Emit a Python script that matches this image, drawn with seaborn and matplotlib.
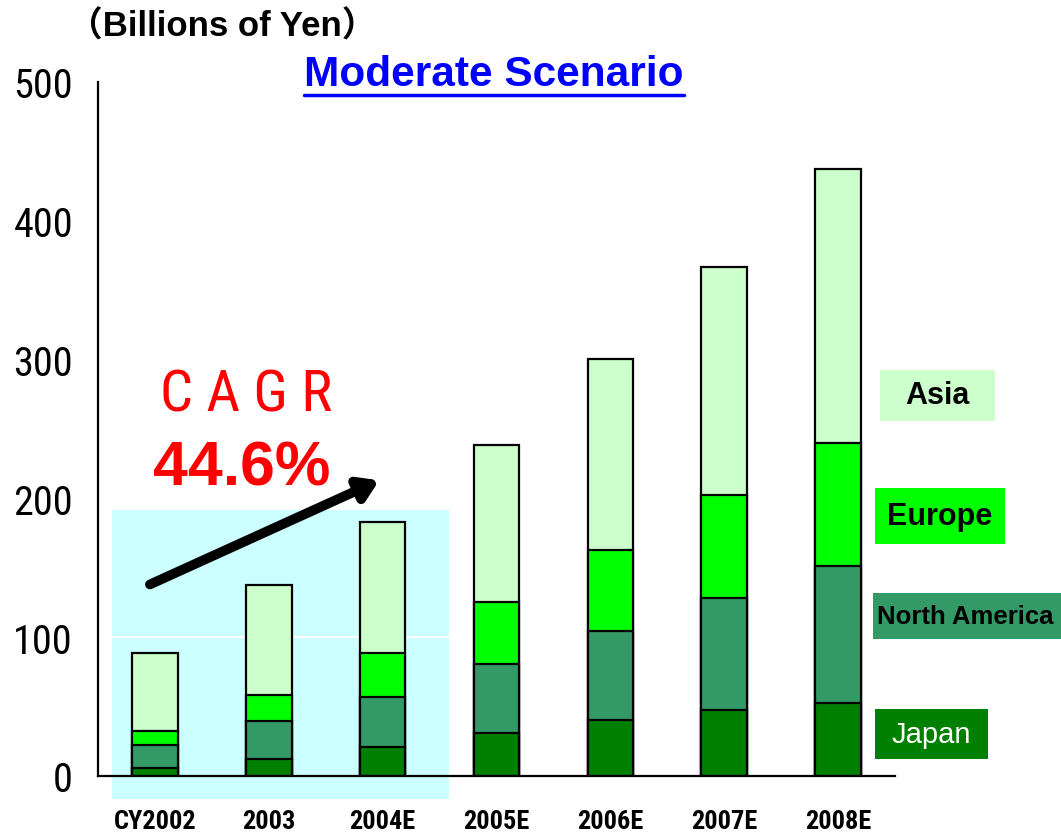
import matplotlib
matplotlib.use("Agg")
import matplotlib.pyplot as plt
from matplotlib import font_manager
from matplotlib.patches import Rectangle
from matplotlib.lines import Line2D
import seaborn as sns
import pandas as pd

# values (billions of yen)
years = ["CY2002", "2003", "2004E", "2005E", "2006E", "2007E", "2008E"]
regions = ["Japan", "North America", "Europe", "Asia"]
japan = [5.5, 12.6, 21.2, 31.2, 40.0, 47.3, 52.7]
north_america = [16.9, 27.2, 35.6, 49.2, 64.7, 80.7, 98.4]
europe = [10.3, 18.7, 31.5, 44.8, 58.0, 74.8, 89.0]
asia = [55.6, 78.8, 94.6, 113.6, 137.9, 164.1, 197.4]
y_ticks = [0, 100, 200, 300, 400, 500]

colors = {"Japan": "#008000", "North America": "#339966",
          "Europe": "#00FF00", "Asia": "#CCFFCC"}
label_colors = {"Japan": "white", "North America": "black",
                "Europe": "black", "Asia": "black"}

sns.set_style("white")
SANS = ["Liberation Sans", "DejaVu Sans"]
plt.rcParams["font.family"] = SANS
plt.rcParams["text.color"] = "black"
plt.rcParams["xtick.color"] = "black"
plt.rcParams["ytick.color"] = "black"

# pick a narrow face if one is installed
names = {(f.name, str(f.stretch)) for f in font_manager.fontManager.ttflist}
fam_names = {n for n, _ in names}
if "Liberation Sans Narrow" in fam_names:
    NARROW = dict(family=["Liberation Sans Narrow", "DejaVu Sans"])
elif "Roboto Condensed" in fam_names:
    NARROW = dict(family=["Roboto Condensed", "DejaVu Sans"])
elif any(n == "DejaVu Sans" and s in ("condensed", "semi-condensed", "75", "87.5")
         for n, s in names):
    NARROW = dict(family=["DejaVu Sans"], fontstretch="condensed")
else:
    NARROW = dict(family=["Roboto", "Liberation Sans"])

W, H = 1061, 837
fig = plt.figure(figsize=(W / 100, H / 100), dpi=100)


def fx(px):
    return px / W


def fy(py):
    return 1 - py / H


ax = fig.add_axes([fx(98), fy(777), fx(895) - fx(98), fy(83) - fy(777)])

df = pd.DataFrame({"year": years, "Japan": japan, "North America": north_america,
                   "Europe": europe, "Asia": asia})
long = df.melt(id_vars="year", var_name="region", value_name="value")
long["cum"] = long.groupby("year", sort=False)["value"].cumsum()

# stacked bars: draw the tallest cumulative layer first
for reg in reversed(regions):
    sub = long[long["region"] == reg]
    sns.barplot(data=sub, x="year", y="cum", order=years, color=colors[reg],
                width=0.4, edgecolor="black", linewidth=1.6, saturation=1,
                errorbar=None, zorder=3, ax=ax)

ax.set_xlim(-0.5, len(years) - 0.5)
ax.set_ylim(0, 500)

# light cyan highlight behind the actual years
ax.add_patch(Rectangle((-0.377, -16.6), 2.96, 208.2, facecolor="#CCFFFF",
                       edgecolor="none", zorder=0, clip_on=False))
for t in y_ticks[1:]:
    ax.axhline(t, color="white", lw=1.5, zorder=1)

sns.despine(ax=ax)
for s in ["left", "bottom"]:
    ax.spines[s].set_linewidth(1.6)
    ax.spines[s].set_color("black")
    ax.spines[s].set_zorder(4)

ax.set_yticks(y_ticks)
ax.set_yticklabels([str(t) for t in y_ticks], fontsize=29, **NARROW)
ax.tick_params(axis="y", direction="in", length=10, width=1.5, pad=18)
ax.set_xticks(range(len(years)))
ax.set_xticklabels(years, fontsize=19, fontweight="bold", **NARROW)
ax.set_xticks([i + 0.5 for i in range(len(years))], minor=True)
ax.tick_params(axis="x", which="major", length=0, pad=24)
ax.tick_params(axis="x", which="minor", direction="in", length=8, width=1.5)
ax.set_xlabel("")
ax.set_ylabel("")

# CAGR arrow and text
ax.annotate("", xy=(1.97, 213), xytext=(-0.044, 138),
            arrowprops=dict(arrowstyle="-|>,head_length=1.1,head_width=0.7",
                            lw=7, color="black", shrinkA=0, shrinkB=0),
            zorder=5, annotation_clip=False)
fig.text(fx(246), fy(396), "C A G R", color="red", fontsize=42,
         ha="center", va="center", **NARROW)
fig.text(fx(242), fy(469), "44.6%", color="red", fontsize=45,
         fontweight="bold", ha="center", va="center")

# titles
fig.text(fx(222), fy(27), "（Billions of Yen）", fontsize=25, fontweight="bold",
         family=["Liberation Sans", "Noto Sans CJK JP"], ha="center", va="center")
title = fig.text(fx(494), fy(75), "Moderate Scenario", fontsize=30.5,
                 fontweight="bold", color="#0000FF", ha="center", va="center")

# region labels at the right
label_boxes = {"Asia": (880, 371, 995, 422), "Europe": (875, 489, 1005, 545),
               "North America": (873, 594, 1061, 640), "Japan": (875, 710, 988, 760)}
label_sizes = {"Asia": 22, "Europe": 22, "North America": 18.5, "Japan": 21}
label_weights = {"Asia": "bold", "Europe": "bold", "North America": "bold",
                 "Japan": "normal"}
for reg, (x0, y0, x1, y1) in label_boxes.items():
    fig.add_artist(Rectangle((fx(x0), fy(y1)), fx(x1) - fx(x0), fy(y0) - fy(y1),
                             transform=fig.transFigure, facecolor=colors[reg],
                             edgecolor="none"))
    left = reg == "North America"
    tx = 877 if left else (x0 + x1) / 2
    fig.text(fx(tx), fy((y0 + y1) / 2), reg, fontsize=label_sizes[reg],
             fontweight=label_weights[reg], color=label_colors[reg],
             ha="left" if left else "center", va="center")

# underline the scenario title
fig.canvas.draw()
bb = title.get_window_extent().transformed(fig.transFigure.inverted())
fig.add_artist(Line2D([bb.x0, bb.x1], [bb.y0 - 0.001, bb.y0 - 0.001],
                      transform=fig.transFigure, color="#0000FF", lw=2.5))

fig.savefig("out.png", dpi=100)
